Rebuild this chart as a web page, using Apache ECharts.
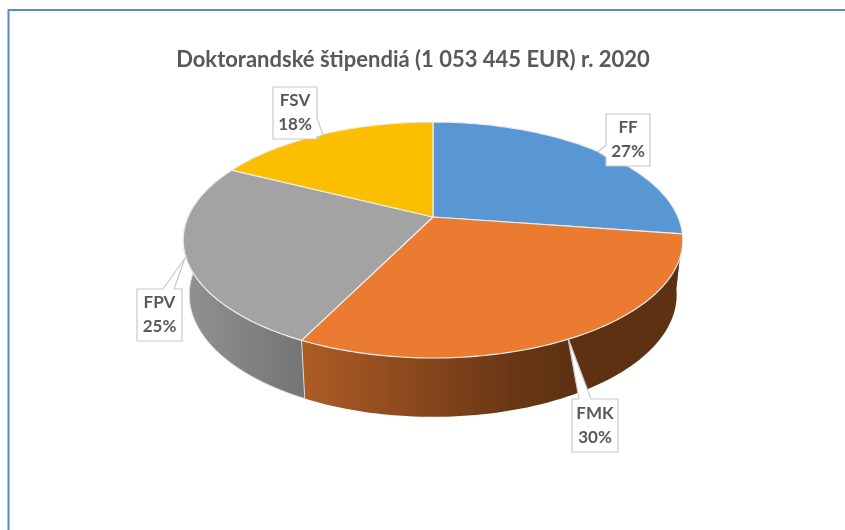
<!DOCTYPE html>
<html>
<head>
<meta charset="utf-8">
<style>
  html, body { margin: 0; padding: 0; background: #fff; }
  #chart { width: 845px; height: 530px; }
</style>
<script src="https://cdn.jsdelivr.net/npm/echarts@6/dist/echarts.min.js"></script>
</head>
<body>
<div id="chart"></div>
<script>
var chartTitle = "Doktorandské štipendiá (1 053 445 EUR) r. 2020";
var categories = ["FF", "FMK", "FPV", "FSV"];
var values = [27.3, 30, 25.1, 17.6];

var topColors = ["#5997D4", "#EB7B30", "#A3A3A3", "#FCBE00"];
// side wall gradient, colours run left to right
var wallStops = [
  [[0, "#2F5C85"], [1, "#2F5C85"]],
  [[0, "#AE5C25"], [0.55, "#6A3715"], [0.7, "#5E3112"], [1, "#5E3112"]],
  [[0, "#929292"], [1, "#747474"]],
  [[0, "#997300"], [1, "#997300"]]
];

// callout boxes: box rect, then the pointer's base points and tip
var callouts = [
  { x: 606, y: 114, w: 44, h: 52, base: [[606, 145], [606, 157]], tip: [598, 152], side: "left" },
  { x: 572, y: 399, w: 46, h: 53, base: [[579, 399], [591, 399]], tip: [568, 338], side: "top" },
  { x: 137, y: 289, w: 45, h: 52, base: [[163, 289], [174, 289]], tip: [185, 258], side: "top" },
  { x: 273, y: 87, w: 44, h: 52, base: [[317, 118], [317, 137]], tip: [323, 135], side: "right" }
];

// projected disc, tilted with some perspective
var centerX = 433;
var topDisc = { y0: 217, a: 245, b: 113.5, k: 0.195 };
var lowDisc = { y0: 271, a: 239, b: 117.4, k: 0.195 };

var total = values.reduce(function (s, v) { return s + v; }, 0);

function project(disc, deg) {
  var t = deg * Math.PI / 180;
  var u = Math.sin(t), v = Math.cos(t);
  var w = 1 + disc.k * v;
  return [centerX + disc.a * u / w, disc.y0 - disc.b * v / w];
}

function sliceAngles(i) {
  var before = values.slice(0, i).reduce(function (s, v) { return s + v; }, 0);
  return [before / total * 360, (before + values[i]) / total * 360];
}

function arcPoints(disc, from, to) {
  var pts = [];
  var n = Math.max(2, Math.ceil((to - from) / 1.5));
  for (var j = 0; j <= n; j++) {
    pts.push(project(disc, from + (to - from) * j / n));
  }
  return pts;
}

function renderWall(params, api) {
  var i = api.value(1);
  var ang = sliceAngles(i);
  var upper = arcPoints(topDisc, ang[0], ang[1]);
  var lower = arcPoints(lowDisc, ang[0], ang[1]).reverse();
  var pts = upper.concat(lower);
  var xs = pts.map(function (p) { return p[0]; });
  var minX = Math.min.apply(null, xs), maxX = Math.max.apply(null, xs);
  var stops = wallStops[i].map(function (s) { return { offset: s[0], color: s[1] }; });
  return {
    type: "polygon",
    shape: { points: pts },
    style: {
      fill: new echarts.graphic.LinearGradient(minX, 0, maxX, 0, stops, true),
      stroke: "#D9D9D9",
      lineWidth: i === 2 ? 1 : 0
    },
    silent: true
  };
}

function renderTop(params, api) {
  var i = api.value(1);
  var ang = sliceAngles(i);
  var pts = [[centerX, topDisc.y0]].concat(arcPoints(topDisc, ang[0], ang[1]));
  return {
    type: "polygon",
    shape: { points: pts },
    style: { fill: topColors[i], stroke: "#EDEDED", lineWidth: 1.2, lineJoin: "round" },
    silent: true
  };
}

function renderCallout(params, api) {
  var i = api.value(1);
  var c = callouts[i];
  var x0 = c.x, y0 = c.y, x1 = c.x + c.w, y1 = c.y + c.h;
  var outline;
  if (c.side === "left") {
    outline = [[x0, y0], [x1, y0], [x1, y1], [x0, y1], c.base[1], c.tip, c.base[0]];
  } else if (c.side === "right") {
    outline = [[x0, y0], [x1, y0], c.base[0], c.tip, c.base[1], [x1, y1], [x0, y1]];
  } else {
    outline = [[x0, y0], c.base[0], c.tip, c.base[1], [x1, y0], [x1, y1], [x0, y1]];
  }
  return {
    type: "group",
    silent: true,
    children: [
      {
        type: "polygon",
        shape: { points: outline },
        style: { fill: "#fff", stroke: "#C9C9C9", lineWidth: 1.2 }
      },
      {
        type: "text",
        style: {
          x: c.x + c.w / 2,
          y: c.y + c.h / 2,
          text: categories[i] + "\n" + Math.round(api.value(0) / total * 100) + "%",
          align: "center",
          verticalAlign: "middle",
          font: "bold 17px Lato",
          lineHeight: 24,
          fill: "#595959"
        }
      }
    ]
  };
}

var rows = values.map(function (v, i) { return [v, i]; });

var myChart = echarts.init(document.getElementById("chart"), null, { renderer: "canvas" });
myChart.setOption({
  animation: false,
  backgroundColor: "#fff",
  title: {
    text: chartTitle,
    left: 408,
    top: 44,
    textAlign: "center",
    textStyle: { color: "#595959", fontFamily: "Lato", fontWeight: "bold", fontSize: 22 }
  },
  graphic: [
    {
      type: "polyline",
      shape: { points: [[8.5, 530], [8.5, 10], [845, 10]] },
      style: { stroke: "#5B8AC2", lineWidth: 2, fill: null },
      silent: true
    }
  ],
  series: [
    { type: "custom", coordinateSystem: "none", z: 1, renderItem: renderWall, data: rows },
    { type: "custom", coordinateSystem: "none", z: 2, renderItem: renderTop, data: rows },
    { type: "custom", coordinateSystem: "none", z: 3, renderItem: renderCallout, data: rows }
  ]
});
</script>
</body>
</html>
